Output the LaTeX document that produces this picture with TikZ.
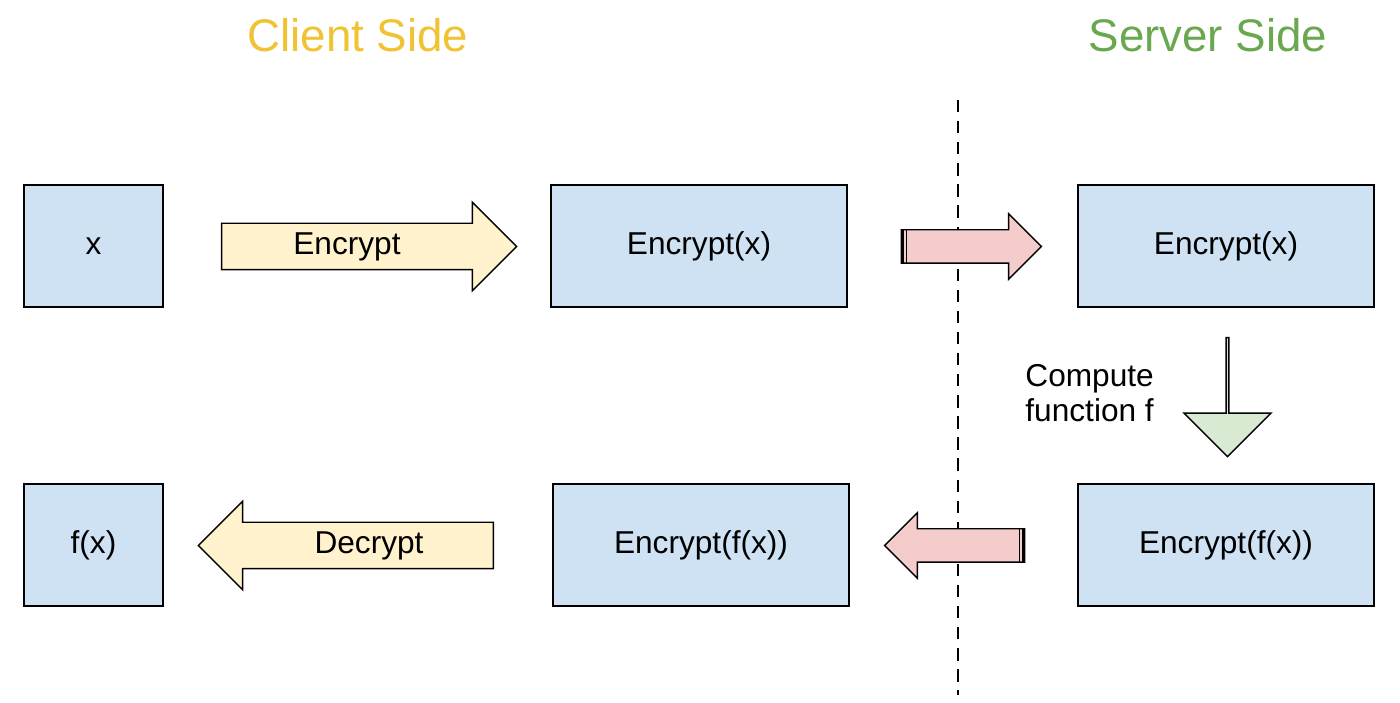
\documentclass[tikz,border=0pt]{standalone}
\usepackage{fontspec}
\setmainfont{Liberation Sans}
\usetikzlibrary{shapes.arrows,positioning}
\definecolor{boxblue}{RGB}{207,226,243}
\definecolor{argyellow}{RGB}{255,242,204}
\definecolor{argred}{RGB}{244,204,204}
\definecolor{arggreen}{RGB}{217,234,211}
\definecolor{clientcol}{RGB}{241,194,50}
\definecolor{servercol}{RGB}{106,168,79}
\begin{document}
\begin{tikzpicture}[x=0.2mm,y=-0.2mm]
	\tikzstyle{Box}		= [draw, line width=0.8pt, fill=boxblue, inner sep=0pt, font=\fontsize{18}{20}\selectfont]
	\tikzstyle{Small}	= [Box, minimum width=27.8mm, minimum height=24.4mm]
	\tikzstyle{Wide}	= [Box, minimum width=59.2mm, minimum height=24.4mm]
	\tikzstyle{Step}	= [single arrow, draw, line width=0.8pt, fill=argyellow, inner sep=0pt, text width=0pt,
	                       text height=9mm, text depth=0pt,
	                       minimum height=59mm, minimum width=17.4mm, single arrow head extend=4.2mm]
	\tikzstyle{Send}	= [single arrow, draw, line width=0.8pt, fill=argred, inner sep=0pt, text width=0pt,
	                       text height=6.4mm, text depth=0pt,
	                       minimum height=28mm, minimum width=12.8mm, single arrow head extend=3.2mm]
	\tikzstyle{Title}	= [font=\fontsize{26}{28}\selectfont]
	\tikzstyle{Label}	= [font=\fontsize{18}{20}\selectfont]

	\useasboundingbox (0,0) rectangle (1400,703);

	\node (ct) at (358,35) [Title, text=clientcol] {Client Side};
	\node (st) at (1208,35) [Title, text=servercol] {Server Side};

	\coordinate (top) at (958,100);
	\coordinate (bot) at (958,695);
	\draw [dashed, line width=1.2pt, dash pattern=on 7pt off 5pt] (top) -- (bot);

	\node (x) at (93.5,246) [Small] {x};
	\node (ex) at (699,246) [Wide] {Encrypt(x)};
	\node (sx) at (1226,246) [Wide] {Encrypt(x)};
	\node (fx) at (93.5,545) [Small] {f(x)};
	\node (efx) at (701,545) [Wide] {Encrypt(f(x))};
	\node (sfx) at (1226,545) [Wide] {Encrypt(f(x))};

	\node (enc) at (357.5,246.5) [Step] {};
	\node at (347,246.5) [Label] {Encrypt};
	\node (dec) at (357.5,545.5) [Step, shape border rotate=180] {};
	\node at (369,545.5) [Label] {Decrypt};

	\node (up) at (963,246.5) [Send] {};
	\draw [line width=1.6pt] ([xshift=1.2pt]up.before tail) -- ([xshift=1.2pt]up.after tail);
	\draw [line width=0.8pt] ([xshift=3.4pt]up.before tail) -- ([xshift=3.4pt]up.after tail);
	\node (down) at (963,545.5) [Send, shape border rotate=180] {};
	\draw [line width=1.6pt] ([xshift=-1.2pt]down.before tail) -- ([xshift=-1.2pt]down.after tail);
	\draw [line width=0.8pt] ([xshift=-3.4pt]down.before tail) -- ([xshift=-3.4pt]down.after tail);

	\node (cf) at (1227.5,396.5) [Step, fill=arggreen, shape border rotate=270, text height=8.4mm,
	      minimum height=23.8mm, single arrow head extend=4.5mm] {};
	\node (cfl) at (1160,393) [Label, anchor=east, align=left] {Compute\\function f};
\end{tikzpicture}
\end{document}
